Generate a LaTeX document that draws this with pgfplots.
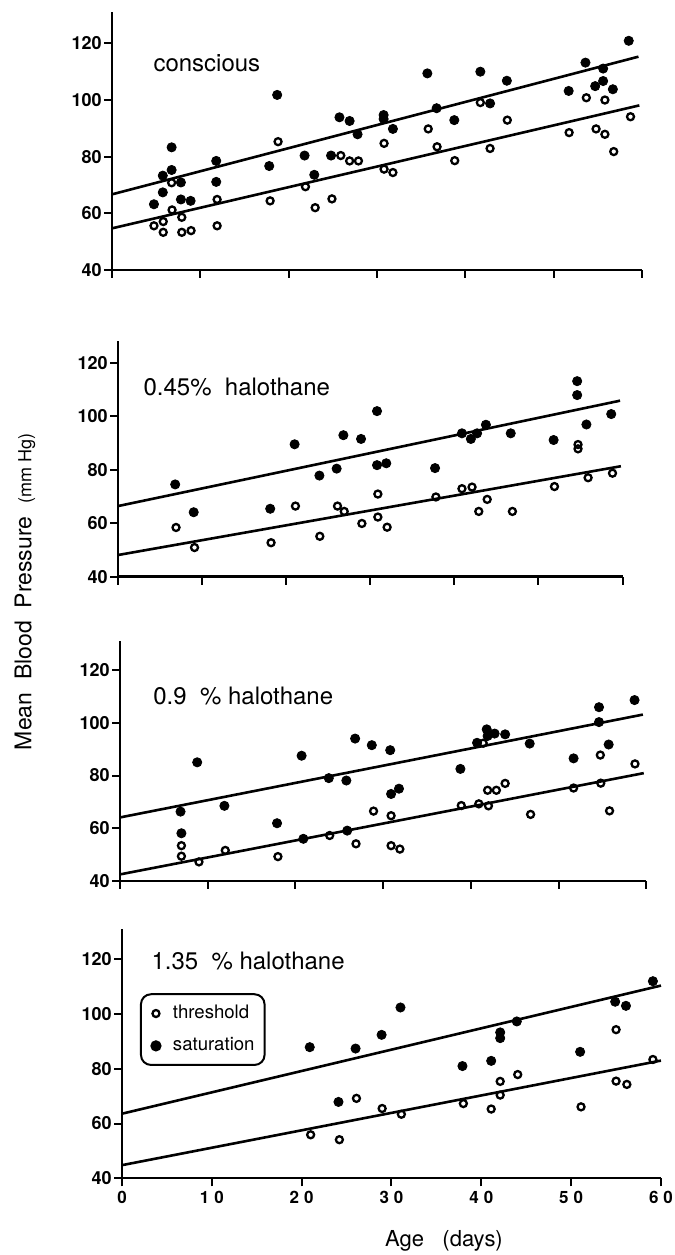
\documentclass[border=0pt]{standalone}
\usepackage{fontspec}
\setmainfont{TeX Gyre Heros}
\usepackage{pgfplots}
\pgfplotsset{compat=1.18}
\pgfplotsset{
  panel/.style={
    scale only axis, xmin=0, xmax=60, ymin=40,
    axis x line=bottom, axis y line=left,
    axis line style={-, line width=1.2pt},
    tick align=outside, major tick length=4pt,
    tick style={line width=1pt, black},
    xtick={0,10,...,60}, ytick={40,60,...,120},
    xticklabels={},
    yticklabel style={font=\fontsize{9}{10}\selectfont\bfseries, inner xsep=1pt},
    /pgf/number format/assume math mode=true,
    clip=false,
    anchor=south west,
  },
  thr/.style={only marks, mark=o, mark size=1.75pt, mark options={line width=1.15pt, black}},
  sat/.style={only marks, mark=*, mark size=2.3pt, mark options={black, fill=black}},
  fit/.style={no marks, line width=1.3pt, black, forget plot},
}
\tikzset{plab/.style={anchor=base west, font=\fontsize{12}{14}\selectfont}}
\begin{document}
\begin{tikzpicture}
\useasboundingbox (0,0) rectangle (337.5pt,627.5pt);

% ---------- Panel 1: conscious
\begin{axis}[panel, at={(56pt,492.5pt)}, width=265pt, height=128.9pt, ymax=131]
\addplot[sat] coordinates {(4.75,63.2) (5.75,67.4) (5.75,73.3) (6.75,83.3) (6.75,75.3) (7.8,70.9) (7.8,64.9) (8.9,64.4) (11.8,78.5) (11.8,71.1) (17.8,76.7) (18.7,101.8) (21.8,80.4) (22.9,73.6) (24.8,80.4) (25.75,93.9) (26.9,92.6) (27.8,87.9) (30.75,94.7) (30.75,93.3) (31.8,89.8) (35.7,109.4) (36.75,97.1) (38.75,92.9) (41.7,110) (42.8,98.8) (44.7,106.8) (51.7,103.2) (53.6,113.2) (54.7,104.9) (55.6,111.1) (55.6,106.7) (56.7,103.8) (58.5,120.9)};
\addplot[thr] coordinates {(4.75,55.6) (5.8,57.1) (5.8,53.3) (6.75,70.8) (6.8,61.2) (7.9,58.6) (7.9,53.3) (8.95,53.9) (11.9,64.9) (11.9,55.6) (17.9,64.4) (18.8,85.3) (21.9,69.4) (23,62) (24.9,65.1) (25.9,80.4) (26.9,78.5) (27.9,78.5) (30.8,84.7) (30.8,75.6) (31.8,74.4) (35.8,89.8) (36.8,83.5) (38.8,78.6) (41.7,99.1) (42.8,82.9) (44.75,92.9) (51.75,88.5) (53.7,100.8) (54.8,89.8) (55.8,100) (55.8,87.9) (56.8,81.8) (58.7,94.1)};
\addplot[fit] coordinates {(0,66.7) (59.6,115.3)};
\addplot[fit] coordinates {(0,54.7) (59.7,98.1)};
\node[plab] at (axis cs:3.9,110) {conscious};
\end{axis}

% ---------- Panel 2: 0.45% halothane
\begin{axis}[panel, at={(59pt,339.15pt)}, width=252.3pt, height=117.7pt, ymax=128]
\addplot[sat] coordinates {(6.8,74.5) (9.0,64.1) (18.1,65.4) (21.0,89.5) (23.95,77.8) (26.0,80.4) (26.8,92.9) (28.9,91.5) (30.8,101.9) (30.8,81.7) (31.9,82.4) (37.7,80.6) (40.9,93.6) (41.96,91.5) (42.7,93.6) (43.75,96.8) (46.7,93.6) (51.8,91.1) (54.6,113.1) (54.6,107.9) (55.7,96.9) (58.65,100.8)};
\addplot[thr] coordinates {(6.9,58.4) (9.1,50.9) (18.2,52.7) (21.1,66.4) (24.0,55.1) (26.1,66.4) (26.9,64.4) (29.0,59.9) (30.9,70.9) (30.9,62.3) (32.0,58.5) (37.8,69.8) (40.9,72.9) (42.1,73.5) (42.9,64.4) (43.9,68.9) (46.9,64.4) (51.9,73.7) (54.7,89.4) (54.7,87.8) (55.9,77.0) (58.8,78.7)};
\addplot[fit] coordinates {(0,66.4) (59.7,105.8)};
\addplot[fit] coordinates {(0,48.1) (59.8,81.3)};
\node[plab] at (axis cs:2.2,107.6) {0.45\%\ \ halothane};
\end{axis}

% ---------- Panel 3: 0.9 % halothane
\begin{axis}[panel, at={(60pt,187pt)}, width=263.2pt, height=120pt, ymax=131]
\addplot[sat] coordinates {(6.9,66.3) (7.0,58.1) (8.8,85.0) (11.9,68.5) (17.9,61.9) (20.7,87.5) (20.9,56.0) (23.8,79.0) (25.8,78.1) (25.9,59.1) (26.8,94.0) (28.7,91.5) (30.8,89.6) (30.9,73.0) (31.8,75.0) (38.8,82.5) (40.7,92.4) (41.8,97.5) (41.9,95.0) (42.7,95.9) (43.9,95.6) (46.7,92.1) (51.7,86.5) (54.6,105.9) (54.6,100.25) (55.7,91.75) (58.65,108.6)};
\addplot[thr] coordinates {(7.0,53.4) (7.0,49.4) (9.0,47.25) (12.0,51.6) (18.0,49.25) (23.9,57.25) (26.9,54.1) (28.9,66.5) (30.9,64.75) (30.9,53.4) (31.9,52.1) (38.9,68.6) (40.9,69.25) (41.4,92.25) (41.9,74.4) (42.9,74.4) (42.0,68.5) (43.9,77.0) (46.8,65.25) (51.7,75.25) (54.75,87.75) (54.8,77.1) (55.8,66.6) (58.7,84.4)};
\addplot[fit] coordinates {(0,64.1) (59.6,103.1)};
\addplot[fit] coordinates {(0,42.5) (59.7,80.9)};
\node[plab] at (axis cs:3.0,107.1) {0.9\ \ \%\ halothane};
\end{axis}

% ---------- Panel 4: 1.35 % halothane
\begin{axis}[panel, at={(61pt,38.35pt)}, width=269.5pt, height=124.56pt, ymax=131,
  xticklabels={0,1\hspace{2.5pt}0,2\hspace{2.5pt}0,3\hspace{2.5pt}0,4\hspace{2.5pt}0,5\hspace{2.5pt}0,6\hspace{2.5pt}0},
  xticklabel style={font=\fontsize{8.5}{10}\selectfont\bfseries, inner ysep=2pt},
  legend image code/.code={\path (0pt,0pt) (10pt,0pt); \draw[#1] plot coordinates {(4pt,0pt)};},
  legend style={at={(axis cs:2,107.6)}, anchor=north west, draw=black, line width=1pt,
    rounded corners=5pt, font=\fontsize{9.3}{10}\selectfont, inner xsep=3pt, inner ysep=3.5pt,
    row sep=4pt},
  legend cell align=left]
\addplot[thr] coordinates {(21.0,55.9) (24.2,54.1) (26.1,69.2) (28.96,65.5) (31.1,63.4) (38.0,67.3) (41.1,65.3) (42.1,75.4) (42.1,70.4) (44.05,77.9) (51.1,66.1) (55.0,94.3) (55.0,75.5) (56.2,74.3) (59.1,83.4)};
\addlegendentry{threshold}
\addplot[sat] coordinates {(20.9,87.9) (24.1,67.9) (26.0,87.4) (28.9,92.4) (31.0,102.4) (37.9,81.0) (41.1,82.9) (42.1,93.3) (42.1,91.2) (43.95,97.3) (51.0,86.2) (54.9,104.5) (56.1,103.0) (59.1,112.0)};
\addlegendentry{saturation\hspace{10pt}}
\addplot[fit] coordinates {(0,63.6) (60,110.4)};
\addplot[fit] coordinates {(0,44.8) (60,83.0)};
\node[plab] at (axis cs:2.5,116.1) {1.35\ \ \%\ halothane};
\end{axis}

\node[anchor=base, font=\fontsize{11}{13}\selectfont] at (222pt,4.5pt) {Age\ \ \ (days)};
\node[rotate=90, font=\fontsize{11.5}{13}\selectfont] at (12.5pt,331.5pt) {Mean\ \ Blood\ \ Pressure\ \ {\fontsize{9}{10}\selectfont(mm Hg)}};
\end{tikzpicture}
\end{document}
